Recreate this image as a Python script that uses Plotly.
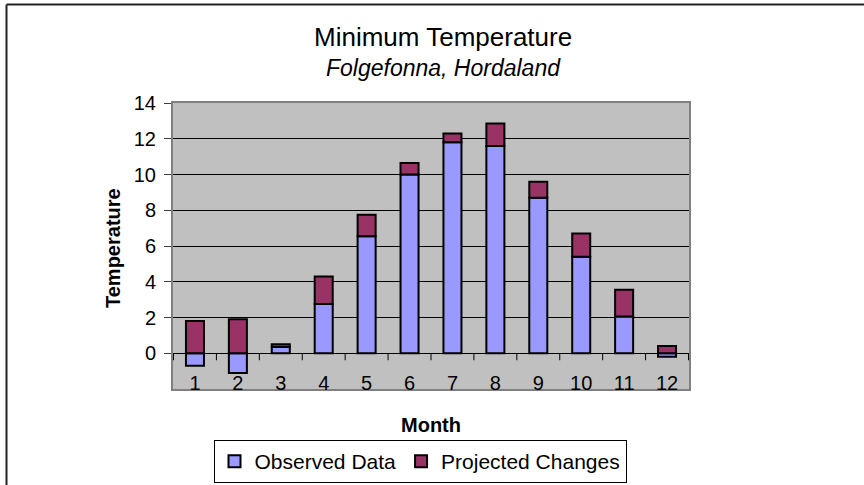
import plotly.graph_objects as go

months = ["1", "2", "3", "4", "5", "6", "7", "8", "9", "10", "11", "12"]
observed = [-0.7, -1.1, 0.35, 2.75, 6.55, 10.0, 11.8, 11.6, 8.7, 5.4, 2.05, -0.2]
projected = [1.8, 1.9, 0.15, 1.55, 1.2, 0.65, 0.5, 1.25, 0.9, 1.3, 1.5, 0.4]
y_ticks = [-2, 0, 2, 4, 6, 8, 10, 12, 14]

W, H = 864, 485
L, R, T, B = 173, 175, 103, 96
PW, PH = W - L - R, H - T - B


def px_x(p):
    return (p - L) / PW


def px_y(p):
    return (H - B - p) / PH


FONT = "Liberation Sans, Arial, sans-serif"

fig = go.Figure()
fig.add_trace(go.Bar(
    x=months, y=observed, name="Observed Data",
    marker=dict(color="#9999FF", line=dict(color="black", width=2)),
))
fig.add_trace(go.Bar(
    x=months, y=projected, name="Projected Changes",
    marker=dict(color="#993366", line=dict(color="black", width=2)),
))

shapes = []
# chart frame (left and top edges visible; right/bottom fall outside the image)
shapes.append(dict(type="line", xref="paper", yref="paper",
                   x0=px_x(6.5), x1=px_x(6.5), y0=px_y(4.5), y1=px_y(490),
                   line=dict(color="#222222", width=2)))
shapes.append(dict(type="line", xref="paper", yref="paper",
                   x0=px_x(6.5), x1=px_x(870), y0=px_y(4.5), y1=px_y(4.5),
                   line=dict(color="#222222", width=2)))
# category axis tick marks at the zero line (between categories)
for i in range(len(months) + 1):
    shapes.append(dict(type="line", xref="x", yref="y", ysizemode="pixel",
                       yanchor=0, x0=i - 0.5, x1=i - 0.5, y0=0, y1=-7,
                       line=dict(color="black", width=1)))

annotations = [
    dict(text="Minimum Temperature", x=px_x(443), y=px_y(37), xref="paper", yref="paper",
         showarrow=False, xanchor="center", yanchor="middle",
         font=dict(family=FONT, size=26, color="black")),
    dict(text="<i>Folgefonna, Hordaland</i>", x=px_x(443), y=px_y(68), xref="paper", yref="paper",
         showarrow=False, xanchor="center", yanchor="middle",
         font=dict(family=FONT, size=23, color="black")),
    dict(text="<b>Temperature</b>", x=px_x(113), y=px_y(248), xref="paper", yref="paper",
         showarrow=False, xanchor="center", yanchor="middle", textangle=-90,
         font=dict(family=FONT, size=20, color="black")),
    dict(text="<b>Month</b>", x=px_x(431), y=px_y(425), xref="paper", yref="paper",
         showarrow=False, xanchor="center", yanchor="middle",
         font=dict(family=FONT, size=20, color="black")),
]

fig.update_layout(
    width=W, height=H,
    margin=dict(l=L, r=R, t=T, b=B, autoexpand=False),
    paper_bgcolor="white",
    plot_bgcolor="#C0C0C0",
    barmode="relative",
    bargap=0.58,
    font=dict(family=FONT, size=20, color="black"),
    showlegend=True,
    legend=dict(orientation="h", x=px_x(420), xanchor="center",
                y=px_y(440), yanchor="top",
                bordercolor="black", borderwidth=1, bgcolor="white",
                font=dict(family=FONT, size=21, color="black"),
                itemwidth=30, tracegroupgap=0),
    shapes=shapes,
    annotations=annotations,
)

fig.update_xaxes(
    type="category", categoryorder="array", categoryarray=months,
    showline=True, linecolor="#808080", linewidth=2, mirror=True,
    ticks="", ticklabelposition="inside", ticklabelstandoff=-4,
    showgrid=False, zeroline=False, automargin=False,
    tickfont=dict(family=FONT, size=20, color="black"),
)
fig.update_yaxes(
    range=[-2, 14], tickvals=y_ticks, ticktext=[str(v) for v in y_ticks],
    showline=True, linecolor="#808080", linewidth=2, mirror=True,
    ticks="outside", ticklen=7, tickcolor="#404040", tickwidth=1,
    ticklabelstandoff=4, automargin=False,
    showgrid=True, gridcolor="black", gridwidth=1,
    zeroline=True, zerolinecolor="black", zerolinewidth=1,
    tickfont=dict(family=FONT, size=20, color="black"),
)

fig.write_html(
    "out.html",
    config={"displayModeBar": False},
    post_script="document.body.style.margin='0';document.body.style.overflow='hidden';",
)
